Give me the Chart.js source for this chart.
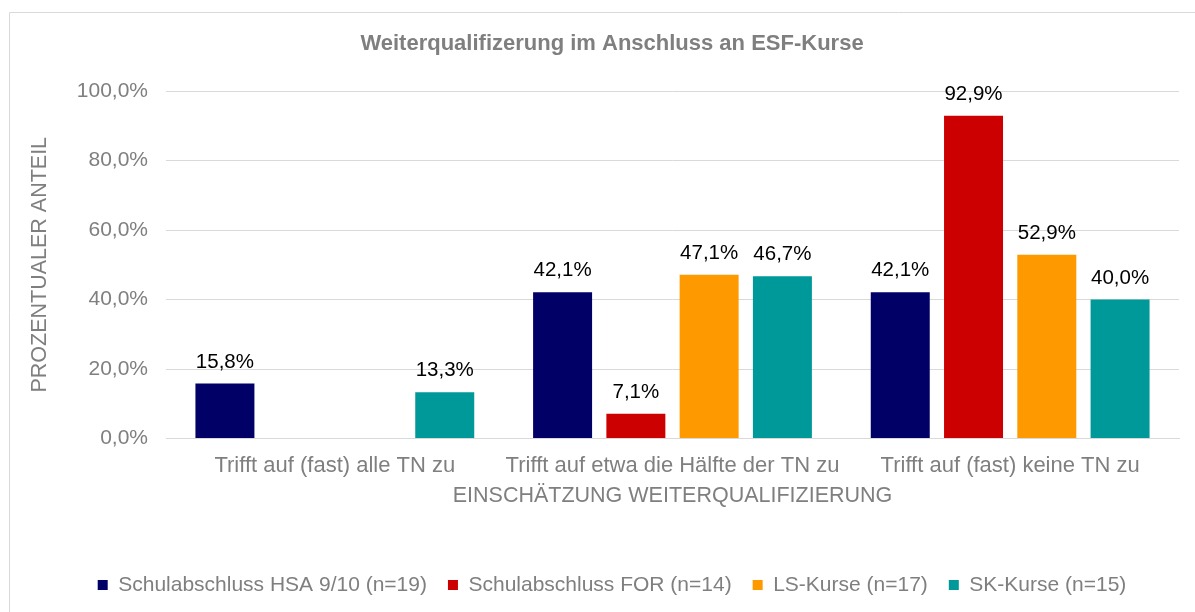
<!DOCTYPE html>
<html lang="de">
<head>
<meta charset="utf-8">
<title>Weiterqualifizerung im Anschluss an ESF-Kurse</title>
<script src="https://cdn.jsdelivr.net/npm/chart.js@4"></script>
<style>
    html, body { margin: 0; padding: 0; background: #fff; }
    #wrap { width: 1195px; height: 612px; }
</style>
</head>
<body>
<div id="wrap"><canvas id="chart" width="1195" height="612"></canvas></div>
<script>
// --- Daten ---
const categories = ['Trifft auf (fast) alle TN zu', 'Trifft auf etwa die Hälfte der TN zu', 'Trifft auf (fast) keine TN zu'];
const seriesNames = ['Schulabschluss HSA 9/10 (n=19)', 'Schulabschluss FOR (n=14)', 'LS-Kurse (n=17)', 'SK-Kurse (n=15)'];
const hsaValues = [15.8, 42.1, 42.1];
const forValues = [null, 7.1, 92.9];
const lsValues = [null, 47.1, 52.9];
const skValues = [13.3, 46.7, 40.0];
const yTicks = [0, 20, 40, 60, 80, 100];

const colors = ['#000066', '#cc0000', '#ff9900', '#009999'];
const grey = '#7f7f7f';
const fontFamily = '"Liberation Sans", Arial, sans-serif';

function pct(v) {
    return v.toFixed(1).replace('.', ',') + '%';
}

// --- Rahmen um das Diagramm ---
const framePlugin = {
    id: 'frame',
    beforeDraw(chart) {
        const ctx = chart.ctx;
        ctx.save();
        ctx.fillStyle = '#fff';
        ctx.fillRect(0, 0, chart.width, chart.height);
        ctx.strokeStyle = '#d9d9d9';
        ctx.lineWidth = 1;
        ctx.beginPath();
        ctx.moveTo(9.5, chart.height);
        ctx.lineTo(9.5, 12.5);
        ctx.lineTo(chart.width, 12.5);
        ctx.stroke();
        ctx.restore();
    }
};

// --- Datenbeschriftungen über den Balken ---
const valueLabels = {
    id: 'valueLabels',
    afterDatasetsDraw(chart) {
        const ctx = chart.ctx;
        ctx.save();
        ctx.font = '20.5px ' + fontFamily;
        ctx.fillStyle = '#000';
        ctx.textAlign = 'center';
        ctx.textBaseline = 'alphabetic';
        chart.data.datasets.forEach((ds, i) => {
            chart.getDatasetMeta(i).data.forEach((bar, j) => {
                const v = ds.data[j];
                if (v === null) return;
                ctx.fillText(pct(v), bar.x, bar.y - 16);
            });
        });
        ctx.restore();
    }
};

const seriesValues = [hsaValues, forValues, lsValues, skValues];

new Chart(document.getElementById('chart'), {
    type: 'bar',
    data: {
        labels: categories,
        datasets: seriesNames.map((name, i) => ({
            label: name,
            data: seriesValues[i],
            backgroundColor: colors[i],
            borderWidth: 0,
            categoryPercentage: 0.868,
            barPercentage: 0.805
        }))
    },
    options: {
        responsive: false,
        animation: false,
        layout: { padding: { left: 45, right: 16, top: 0, bottom: 6.5 } },
        plugins: {
            tooltip: { enabled: false },
            title: {
                display: true,
                text: 'Weiterqualifizerung im Anschluss an ESF-Kurse',
                color: grey,
                font: { family: fontFamily, size: 22, weight: 'bold' },
                padding: { top: 31, bottom: 33.6 }
            },
            legend: {
                position: 'bottom',
                labels: {
                    color: grey,
                    font: { family: fontFamily, size: 21, lineHeight: 1 },
                    boxWidth: 10,
                    boxHeight: 10,
                    padding: 21
                }
            }
        },
        scales: {
            x: {
                grid: { display: false, drawTicks: false },
                border: { display: true, color: '#d9d9d9' },
                ticks: {
                    color: grey,
                    font: { family: fontFamily, size: 22 },
                    padding: 14,
                    maxRotation: 0
                },
                title: {
                    display: true,
                    text: 'EINSCHÄTZUNG WEITERQUALIFIZIERUNG',
                    color: grey,
                    font: { family: fontFamily, size: 21.5 },
                    padding: { top: 0, bottom: 45 }
                },
                afterFit(scale) { scale.height = 115; }
            },
            y: {
                min: 0,
                max: 100,
                grid: { color: '#d9d9d9', drawTicks: false },
                border: { display: false },
                afterBuildTicks(scale) { scale.ticks = yTicks.map(v => ({ value: v })); },
                ticks: {
                    color: grey,
                    font: { family: fontFamily, size: 21 },
                    padding: 18,
                    callback: v => pct(v)
                },
                title: {
                    display: true,
                    text: 'PROZENTUALER ANTEIL',
                    color: grey,
                    font: { family: fontFamily, size: 21.5 },
                    padding: { top: -17.9, bottom: 0 }
                },
                afterFit(scale) { scale.width = 121; }
            }
        }
    },
    plugins: [framePlugin, valueLabels]
});
</script>
</body>
</html>
